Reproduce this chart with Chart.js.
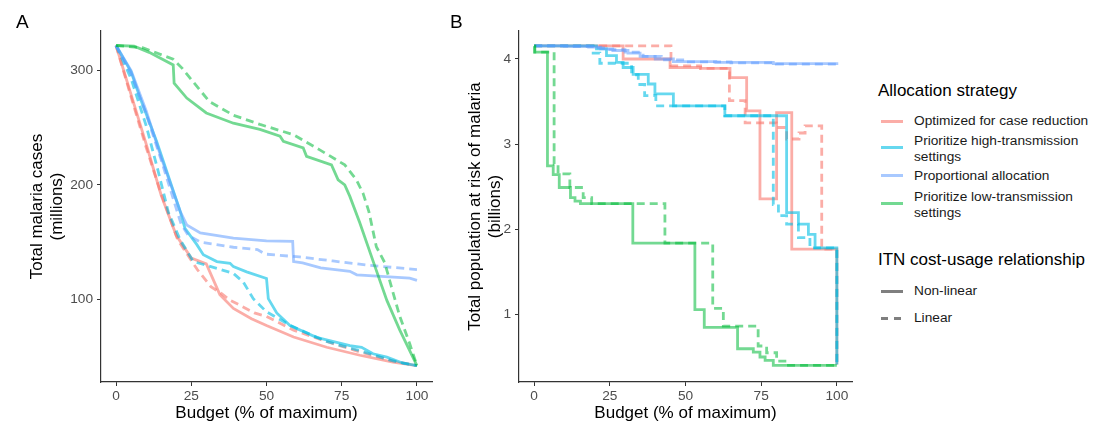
<!DOCTYPE html>
<html>
<head>
<meta charset="utf-8">
<script src="https://cdn.jsdelivr.net/npm/chart.js@4.4.0/dist/chart.umd.min.js"></script>
<style>
  body { margin: 0; background: #fff; font-family: 'Liberation Sans', Arial, sans-serif; }
  #wrap { position: relative; width: 1107px; height: 424px; overflow: hidden; }
  canvas { position: absolute; top: 0; }
  .lbl { position: absolute; color: #000; white-space: nowrap; }
  .panel { font-size: 19px; }
  .ltitle { font-size: 17px; line-height: 20px; }
  .litem { font-size: 13.7px; line-height: 15.7px; color: #1a1a1a; }
  .key { position: absolute; height: 3px; width: 22px; }
</style>
</head>
<body>
<div id="wrap">
  <canvas id="chartA" width="440" height="424" style="left:0"></canvas>
  <canvas id="chartB" width="420" height="424" style="left:440px"></canvas>
  <div class="lbl panel" style="left:16px;top:11px">A</div>
  <div class="lbl panel" style="left:450px;top:11px">B</div>
  <div id="legend"></div>
</div>
<script>
// ---- Panel A: total malaria cases (millions) ----
const budgetA_optSolid = [0, 5, 10, 15, 20, 25, 30, 34.5, 39, 45, 50, 59, 70, 81, 92, 100];
const casesA_optSolid = [322, 279, 236, 191, 156, 136, 131, 104, 92, 83, 77, 67, 58, 51, 45, 42];
const budgetA_optDash = [0, 5, 10, 14.5, 20.5, 27, 31.5, 34.5, 38, 41, 46, 50, 59, 70, 81, 92, 100];
const casesA_optDash = [322, 277, 233, 196, 152, 126, 111, 106, 99, 95, 88, 85, 73, 63, 54, 46, 42];

const budgetA_highSolid = [0, 5, 8, 13.5, 21.3, 22.9, 26.8, 29, 33.5, 37.9, 39, 43.4, 50, 50.6, 53.4, 57.8, 66.6, 77.7, 81.6, 85.4, 90, 95.4, 100];
const casesA_highSolid = [322, 299, 276, 238, 177, 162, 148, 139, 133, 131.4, 128.5, 124, 118.2, 100.5, 88, 77, 66.7, 59.4, 58, 52.3, 49.4, 44, 42];
const budgetA_highDash = [0, 5, 10, 14, 17.4, 21.3, 25.7, 33.5, 39, 42.3, 45.6, 50, 58, 70, 81, 92, 100];
const casesA_highDash = [322, 293, 252, 212, 176, 152, 133, 127, 122.6, 115, 100.5, 89, 77, 63, 55, 46, 42];

const budgetA_propSolid = [0, 5, 10, 15, 21.3, 23.5, 28, 39, 50, 58.7, 59, 62, 68, 77.7, 80, 97.6, 100];
const casesA_propSolid = [322, 300, 265, 224, 177, 165, 158, 153.5, 151, 150.7, 133, 131.8, 127.4, 124.4, 121.4, 118.5, 116.5];
const budgetA_propDash = [0, 5, 10, 15, 19, 21.6, 24, 28, 39, 47, 49.5, 61, 72, 83, 100];
const casesA_propDash = [322, 297, 262, 222, 188, 166, 156, 150, 145.5, 143.5, 139.5, 137, 133.5, 130, 126];

const budgetA_lowSolid = [0, 6, 11, 19, 19.3, 23.5, 30, 39, 47.8, 54.5, 55.6, 62.2, 63.3, 71.6, 73.8, 76, 77.7, 81, 86, 90, 94.3, 100];
const casesA_lowSolid = [322, 321.5, 316, 305, 289, 276, 263, 254, 248.6, 242.6, 238.2, 232.4, 225, 217.6, 204.4, 200, 190, 167, 129, 99, 73, 42];
const budgetA_lowDash = [0, 9, 19, 22, 26, 31, 39, 47.8, 58.9, 67.7, 76, 79.9, 82.1, 84, 86.5, 89.3, 91.5, 94.3, 97.6, 100];
const casesA_lowDash = [322, 320, 310, 302, 289, 273, 261, 253, 244, 230.7, 217.6, 204.4, 192.6, 177, 146, 132, 111, 85, 61, 42];

// ---- Panel B: population at risk (billions), step lines ----
const budgetB_optSolid = [0, 29.4, 44.9, 55, 64.7, 70.2, 74.6, 80.1, 85.1, 100];
const popB_optSolid = [4.155, 4.0, 3.9, 3.89, 3.78, 3.39, 2.355, 3.37, 1.765, 0.41];
const budgetB_optDash = [0, 45.2, 55, 64.5, 69.7, 80, 83.4, 87.5, 89.5, 95, 100];
const popB_optDash = [4.155, 3.92, 3.89, 3.51, 3.25, 3.195, 3.06, 3.13, 3.215, 1.765, 0.41];

const budgetB_highSolid = [0, 20.6, 23.9, 27.2, 29.4, 32.7, 37.7, 39.9, 46, 63, 83.4, 87.3, 90.6, 92.8, 100];
const popB_highSolid = [4.155, 4.118, 4.04, 3.96, 3.9, 3.82, 3.706, 3.59, 3.45, 3.333, 2.195, 2.06, 1.94, 1.78, 0.41];
const budgetB_highDash = [0, 19.5, 21.7, 32.2, 34.4, 36.5, 40.2, 63, 79, 80.7, 83.4, 87.3, 91.1, 100];
const popB_highDash = [4.155, 4.07, 3.95, 3.815, 3.7, 3.57, 3.45, 3.333, 2.29, 2.16, 2.06, 1.9, 1.78, 0.41];

const budgetB_propSolid = [0, 10, 18, 22, 26, 31, 35, 40, 46, 60, 79, 100];
const popB_propSolid = [4.155, 4.15, 4.14, 4.12, 4.1, 4.07, 4.03, 4.0, 3.97, 3.96, 3.945, 3.93];
const budgetB_propDash = [0, 12, 20, 24, 30, 36, 42, 50, 65, 80, 100];
const popB_propDash = [4.155, 4.15, 4.13, 4.11, 4.08, 4.03, 3.99, 3.965, 3.955, 3.94, 3.93];

const budgetB_lowSolid = [0, 0.2, 4.4, 6.3, 8.3, 12, 13.5, 15.3, 32.6, 53.1, 56.2, 67.2, 72.4, 74.6, 76.3, 79, 100];
const popB_lowSolid = [4.15, 4.08, 2.745, 2.64, 2.49, 2.37, 2.33, 2.3, 1.835, 1.054, 0.847, 0.595, 0.556, 0.498, 0.459, 0.4, 0.4];
const budgetB_lowDash = [0, 0.2, 6.6, 7.9, 11.8, 16.2, 19, 43.2, 59, 62.5, 74, 76.8, 80.1, 83.4, 100];
const popB_lowDash = [4.15, 4.08, 2.765, 2.65, 2.49, 2.37, 2.3, 1.835, 1.07, 0.86, 0.627, 0.548, 0.45, 0.4, 0.4];

const xTicks = [0, 25, 50, 75, 100];
const yTicksA = [100, 200, 300];
const yTicksB = [1, 2, 3, 4];

const strategies = ['Optimized for case reduction', 'Prioritize high-transmission\nsettings', 'Proportional allocation', 'Prioritize low-transmission\nsettings'];
const colors = ['rgba(248,118,109,0.6)', 'rgba(0,190,228,0.6)', 'rgba(97,156,255,0.55)', 'rgba(0,186,56,0.55)'];
const dash = [8, 5];

const pts = (xs, ys) => xs.map((x, i) => ({ x: x, y: ys[i] }));

function line(xs, ys, color, dashed, stepped) {
  return {
    data: pts(xs, ys),
    borderColor: color,
    borderWidth: 2.8,
    borderDash: dashed ? dash : [],
    pointRadius: 0,
    fill: false,
    stepped: stepped ? true : false,
    tension: 0
  };
}

Chart.defaults.font.family = "'Liberation Sans', Arial, sans-serif";
Chart.defaults.animation = false;

function makeChart(id, datasets, yMin, yMax, yTicks, yTitle, yWidth, titlePad, rightPad) {
  const tickFont = { size: 13.7 };
  return new Chart(document.getElementById(id), {
    type: 'line',
    data: { datasets: datasets },
    options: {
      responsive: false,
      devicePixelRatio: 1,
      layout: { padding: { top: 31, right: rightPad, left: 0, bottom: 0 } },
      plugins: { legend: { display: false }, tooltip: { enabled: false } },
      scales: {
        x: {
          type: 'linear', min: -5, max: 105,
          afterBuildTicks: s => { s.ticks = xTicks.map(v => ({ value: v })); },
          afterFit: s => { s.height = 42; },
          grid: { drawOnChartArea: false, tickLength: 4, color: '#333' },
          border: { color: '#333', width: 1.2 },
          ticks: { color: '#4d4d4d', font: tickFont, padding: 2, maxRotation: 0 },
          title: { display: true, text: 'Budget (% of maximum)', color: '#000', font: { size: 17 }, padding: { top: 0, bottom: 0 } }
        },
        y: {
          type: 'linear', min: yMin, max: yMax,
          afterBuildTicks: s => { s.ticks = yTicks.map(v => ({ value: v })); },
          afterFit: s => { s.width = yWidth; },
          grid: { drawOnChartArea: false, tickLength: 4, color: '#333' },
          border: { color: '#333', width: 1.2 },
          ticks: { color: '#4d4d4d', font: tickFont, padding: 4 },
          title: { display: true, text: yTitle, color: '#000', font: { size: 17, lineHeight: 1.18 }, padding: { top: titlePad, bottom: 0 } }
        }
      }
    }
  });
}

const solidA = [[budgetA_optSolid, casesA_optSolid], [budgetA_highSolid, casesA_highSolid], [budgetA_propSolid, casesA_propSolid], [budgetA_lowSolid, casesA_lowSolid]];
const dashA = [[budgetA_optDash, casesA_optDash], [budgetA_highDash, casesA_highDash], [budgetA_propDash, casesA_propDash], [budgetA_lowDash, casesA_lowDash]];
const solidB = [[budgetB_optSolid, popB_optSolid], [budgetB_highSolid, popB_highSolid], [budgetB_propSolid, popB_propSolid], [budgetB_lowSolid, popB_lowSolid]];
const dashB = [[budgetB_optDash, popB_optDash], [budgetB_highDash, popB_highDash], [budgetB_propDash, popB_propDash], [budgetB_lowDash, popB_lowDash]];

// Chart.js paints dataset 0 last, so list in reverse to keep ggplot's order
const setsA = [], setsB = [];
for (let i = 3; i >= 0; i--) {
  setsA.push(line(dashA[i][0], dashA[i][1], colors[i], true, false));
  setsA.push(line(solidA[i][0], solidA[i][1], colors[i], false, false));
  setsB.push(line(dashB[i][0], dashB[i][1], colors[i], true, true));
  setsB.push(line(solidB[i][0], solidB[i][1], colors[i], false, true));
}

makeChart('chartA', setsA, 27.6, 334.7, yTicksA, ['Total malaria cases', '(millions)'], 101, 27, 8);
makeChart('chartB', setsB, 0.204, 4.329, yTicksB, ['Total population at risk of malaria', '(billions)'], 79, 25, 8);

// ---- legend (HTML) ----
const legend = document.getElementById('legend');
function addDiv(cls, text, left, top, style) {
  const d = document.createElement('div');
  d.className = cls;
  d.style.left = left + 'px';
  d.style.top = top + 'px';
  if (style) Object.assign(d.style, style);
  if (text !== null) d.innerText = text;
  legend.appendChild(d);
  return d;
}
addDiv('lbl ltitle', 'Allocation strategy', 878, 81);
const itemTops = [113, 133, 168, 189];
const keyCenters = [121, 147.7, 175, 203.3];
strategies.forEach((s, i) => {
  addDiv('lbl litem', s, 914, itemTops[i]);
  addDiv('key', null, 881, keyCenters[i] - 1.5, { background: colors[i] });
});
addDiv('lbl ltitle', 'ITN cost-usage relationship', 878, 250);
addDiv('lbl litem', 'Non-linear', 914, 283);
addDiv('lbl litem', 'Linear', 914, 310);
addDiv('key', null, 881, 289.5, { background: 'rgba(0,0,0,0.5)' });
addDiv('key', null, 881, 316.5, { background: 'rgba(0,0,0,0.5)', width: '7px' });
addDiv('key', null, 894, 316.5, { background: 'rgba(0,0,0,0.5)', width: '7px' });
</script>
</body>
</html>
